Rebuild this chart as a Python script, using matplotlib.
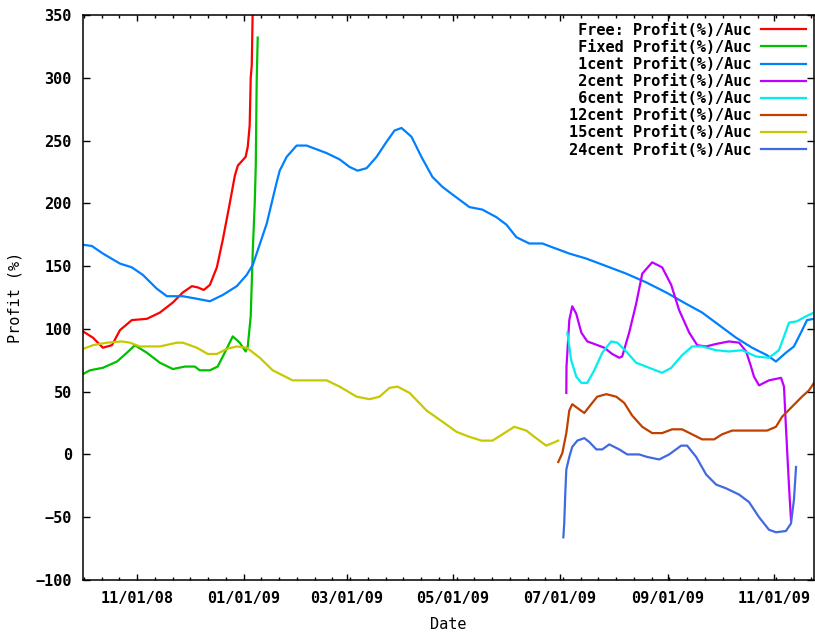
import matplotlib
matplotlib.use('Agg')
import matplotlib.pyplot as plt
import matplotlib.dates as mdates
from matplotlib.ticker import AutoMinorLocator, MultipleLocator
import numpy as np

plt.rcParams['font.family'] = 'DejaVu Sans Mono'
plt.rcParams['font.weight'] = 'bold'
plt.rcParams['font.size'] = 11

# days counted from 2008-10-01
START = '2008-10-01'

free_days = [0.0, 2.3, 5.7, 11.4, 16.6, 21.2, 28.0, 36.6, 44.1, 51.5, 57.2, 62.4, 65.8, 69.2,
             72.7, 76.7, 80.1, 84.1, 87.0, 88.7, 93.2, 94.4, 95.5, 96.1, 96.7, 97.3]
free_vals = [98, 96, 93, 85, 87, 99, 107, 108, 113, 121, 129, 134, 133, 131,
             135, 149, 171, 200, 222, 230, 237, 245, 262, 300, 310, 360]

fixed_days = [0.0, 4.0, 11.4, 19.5, 25.2, 29.7, 36.6, 44.1, 51.5, 58.4, 64.1, 66.9, 72.7,
              77.2, 81.2, 85.8, 89.8, 93.2, 94.4, 96.1, 97.3, 98.4, 99.0, 99.5, 100.1]
fixed_vals = [64, 67, 69, 74, 81, 87, 81, 73, 68, 70, 70, 67, 67,
              70, 81, 94, 89, 82, 86, 110, 163, 200, 230, 296, 332]

c1_days = [0.0, 5.1, 11.4, 21.2, 28.0, 34.3, 42.3, 48.1, 57.2, 65.2, 72.7, 80.1, 88.1, 93.8,
           97.3, 99.5, 105.3, 111.0, 112.7, 116.7, 122.4, 128.1, 139.6, 147.0, 152.7, 157.3,
           162.5, 168.2, 173.9, 178.5, 182.5, 188.2, 193.9, 200.2, 206.0, 211.7, 221.4, 228.8,
           236.8, 242.6, 248.3, 255.7, 263.2, 268.9, 278.6, 288.3, 299.8, 311.2, 322.7, 334.1,
           345.5, 354.7, 364.4, 374.1, 383.3, 391.9, 397.0, 402.7, 407.3, 411.3, 414.8, 418.8]
c1_vals = [167, 166, 160, 152, 149, 143, 132, 126, 126, 124, 122, 127, 134, 143,
           151, 160, 184, 217, 226, 237, 246, 246, 240, 235, 229, 226,
           228, 237, 249, 258, 260, 253, 237, 221, 213, 207, 197, 195,
           189, 183, 173, 168, 168, 165, 160, 156, 150, 144, 137, 129,
           120, 113, 103, 93, 85, 79, 74, 81, 86, 97, 107, 108]

c2_days = [276.9, 277.0, 278.6, 280.3, 282.6, 285.5, 288.9, 292.9, 298.6, 303.2, 307.2, 308.9,
           312.9, 316.9, 320.4, 326.1, 331.8, 337.0, 341.5, 347.3, 351.9, 357.0, 362.7, 370.1,
           375.9, 379.9, 382.7, 384.4, 387.3, 393.0, 399.9, 401.6, 402.7, 404.5, 405.6]
c2_vals = [49, 70, 107, 118, 112, 97, 90, 88, 85, 80, 77, 78,
           97, 120, 144, 153, 149, 135, 115, 97, 87, 86, 88, 90,
           89, 82, 70, 62, 55, 59, 61, 54, 22, -26, -52]

c6_days = [277.5, 279.7, 282.6, 285.5, 288.9, 292.9, 297.5, 302.6, 306.1, 311.2, 316.9, 324.4,
           331.8, 337.0, 343.2, 349.0, 354.7, 362.7, 370.1, 377.6, 385.6, 393.0, 398.7, 404.5,
           409.0, 414.2, 418.8]
c6_vals = [97, 75, 62, 57, 57, 67, 81, 90, 89, 82, 73, 69,
           65, 69, 79, 86, 86, 83, 82, 83, 78, 77, 83, 105,
           106, 110, 113]

c12_days = [272.3, 274.6, 276.9, 278.6, 280.3, 283.2, 287.2, 290.0, 294.6, 299.8, 305.5, 310.1,
            314.6, 320.4, 326.1, 331.8, 337.5, 343.2, 349.0, 354.7, 361.6, 366.1, 371.9, 379.9,
            385.6, 391.9, 397.0, 400.5, 406.2, 411.9, 415.9, 418.8]
c12_vals = [-6, 1, 17, 35, 40, 37, 33, 38, 46, 48, 46, 41,
            31, 22, 17, 17, 20, 20, 16, 12, 12, 16, 19, 19,
            19, 19, 22, 30, 38, 46, 51, 57]

c15_days = [0.0, 5.7, 13.7, 22.3, 26.9, 32.6, 44.1, 53.8, 57.2, 65.2, 71.5, 76.7, 82.4, 88.1,
            93.8, 101.3, 108.7, 120.1, 139.6, 147.0, 156.8, 164.2, 169.9, 175.6, 180.2, 187.1,
            196.8, 206.0, 214.0, 221.4, 228.3, 234.6, 240.3, 247.1, 254.0, 258.6, 265.4, 268.9,
            272.3]
c15_vals = [84, 87, 89, 90, 89, 86, 86, 89, 89, 85, 80, 80, 84, 86,
            85, 77, 67, 59, 59, 54, 46, 44, 46, 53, 54, 49,
            35, 26, 18, 14, 11, 11, 16, 22, 19, 14, 7, 9,
            11]

c24_days = [275.2, 275.7, 276.3, 276.9, 278.6, 280.3, 283.2, 287.2, 290.0, 294.1, 297.5, 301.5,
            307.2, 311.8, 318.6, 323.2, 330.1, 335.8, 342.7, 346.1, 351.3, 357.0, 362.7, 368.4,
            375.9, 381.6, 387.3, 393.0, 397.0, 402.7, 405.6, 407.3, 408.5]
c24_vals = [-66, -55, -31, -12, -2, 6, 11, 13, 10, 4, 4, 8,
            4, 0, 0, -2, -4, 0, 7, 7, -2, -16, -24, -27,
            -32, -38, -50, -60, -62, -61, -55, -36, -10]

series = [
    ('Free: Profit(%)/Auc', free_days, free_vals, '#ff0000'),
    ('Fixed Profit(%)/Auc', fixed_days, fixed_vals, '#00c000'),
    ('1cent Profit(%)/Auc', c1_days, c1_vals, '#0080ff'),
    ('2cent Profit(%)/Auc', c2_days, c2_vals, '#c000ff'),
    ('6cent Profit(%)/Auc', c6_days, c6_vals, '#00eeee'),
    ('12cent Profit(%)/Auc', c12_days, c12_vals, '#c04000'),
    ('15cent Profit(%)/Auc', c15_days, c15_vals, '#c8c800'),
    ('24cent Profit(%)/Auc', c24_days, c24_vals, '#4169e1'),
]

t0 = mdates.datestr2num(START)
fig = plt.figure(figsize=(8.15, 6.32), dpi=100)
ax = fig.add_axes([0.1018, 0.0823, 0.8970, 0.8940])

width = max(len(s[0]) for s in series)
for label, days, vals, color in series:
    ax.plot(t0 + np.array(days), vals, color=color, lw=1.6, label=label.rjust(width))

ax.set_xlim(t0, t0 + 418.8)
ax.set_ylim(-100, 350)
ax.xaxis.set_major_locator(mdates.MonthLocator(bymonth=[1, 3, 5, 7, 9, 11]))
ax.xaxis.set_major_formatter(mdates.DateFormatter('%m/%d/%y'))
ax.xaxis.set_minor_locator(AutoMinorLocator(6))
ax.yaxis.set_major_locator(MultipleLocator(50))

ax.tick_params(axis='both', which='both', direction='in', top=True, right=True, width=1)
ax.tick_params(axis='x', which='major', length=4, pad=8)
ax.tick_params(axis='x', which='minor', length=2)
ax.tick_params(axis='y', which='major', length=5, pad=8)
for sp in ax.spines.values():
    sp.set_linewidth(1.1)

ax.set_xlabel('Date', labelpad=8)
ax.set_ylabel('Profit (%)', labelpad=9)

leg = ax.legend(loc='upper right', frameon=False, markerfirst=False,
                handlelength=2.95, handletextpad=0.65, labelspacing=0.14,
                borderpad=0.2, borderaxespad=0.3)

fig.savefig('out.png', dpi=100)
